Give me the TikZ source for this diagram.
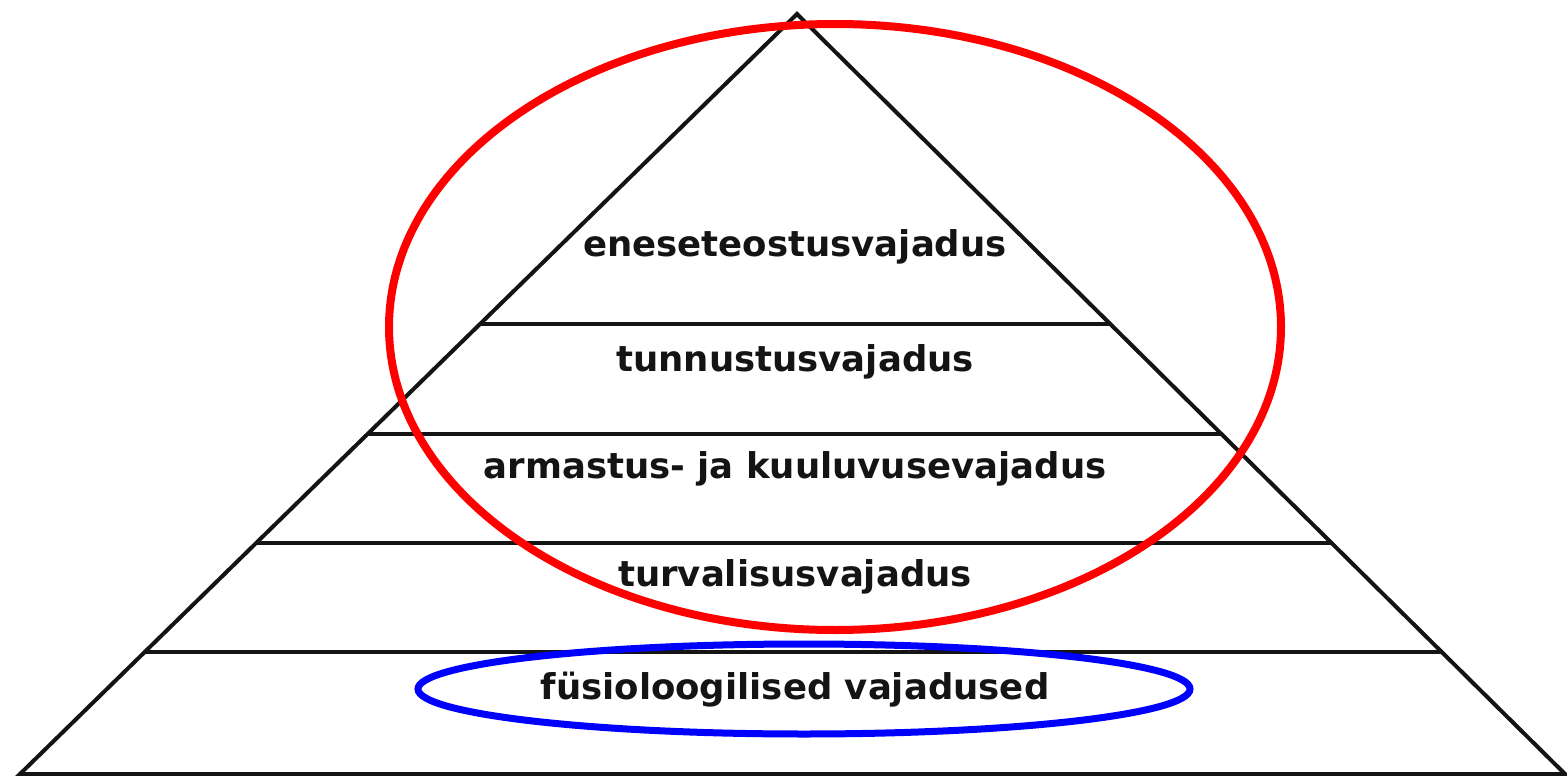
\documentclass[tikz,border=0pt]{standalone}
\usepackage{fontspec}
\setmainfont{DejaVu Sans}
\usetikzlibrary{calc}
\definecolor{ink}{RGB}{20,20,20}
\definecolor{ring}{RGB}{255,0,0}
\definecolor{basering}{RGB}{0,0,255}
\tikzset{
  edge/.style={draw=ink,line width=4pt},
  level/.style={font=\fontsize{35.5}{40}\selectfont\bfseries,text=ink,anchor=base,inner sep=0pt},
  hoop/.style={draw=#1,line width=8pt},
  hoop/.default=ring,
}

\begin{document}
\begin{tikzpicture}[x=1pt,y=-1pt]
    \useasboundingbox (0,0) rectangle (1567,776);
    \coordinate (top) at (797,14);
    \coordinate (bl) at (20,774);
    \coordinate (br) at (1565,774);
    \draw[edge,line join=miter] (bl) -- (top) -- (br) -- cycle;
    % layer dividers
    \foreach \y [count=\i] in {324,434,543,652}
    {
      \pgfmathsetmacro{\t}{(774-\y)/760}
      \coordinate (l\i) at ($(bl)!\t!(top)$);
      \coordinate (r\i) at ($(br)!\t!(top)$);
      \draw[edge] (l\i) -- (r\i);
    }
    % needs, top to bottom
    \foreach \n/\y [count=\i] in {
      eneseteostusvajadus/256,
      tunnustusvajadus/371,
      armastus- ja kuuluvusevajadus/478,
      turvalisusvajadus/586,
      füsioloogilised vajadused/699}
    {
      \node[level] (need\i) at (795,\y) {\n};
    }
    \draw[hoop] (835,327) ellipse [x radius=446pt,y radius=303pt];
    \draw[hoop=basering,line width=7pt] (804,689) ellipse [x radius=386pt,y radius=45pt];
\end{tikzpicture}
\end{document}
